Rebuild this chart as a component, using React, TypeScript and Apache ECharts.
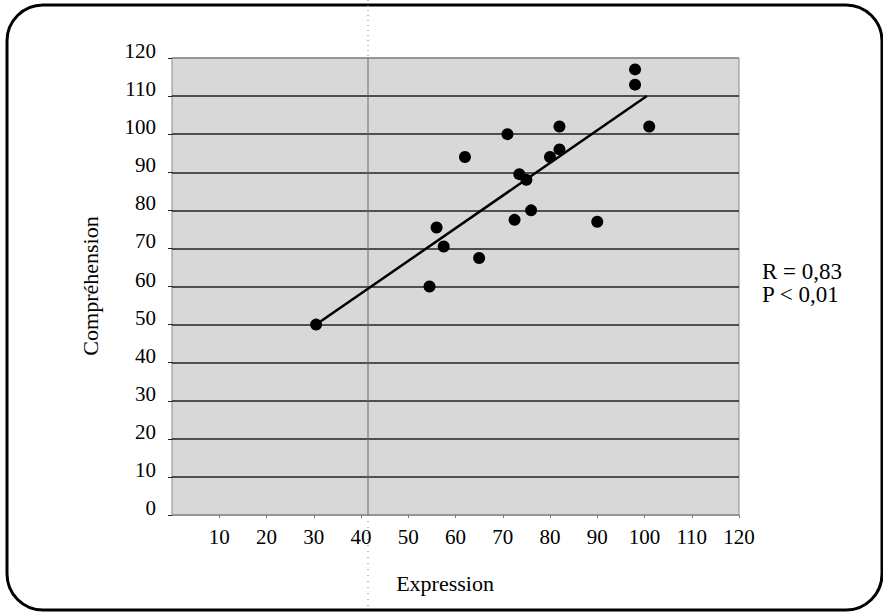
import React, { useEffect, useRef } from "react";
import * as echarts from "echarts";

const expression = [30.5, 54.5, 56, 57.5, 65, 72.5, 76, 75, 73.5, 90, 80, 82, 62, 71, 82, 98, 98, 101];
const comprehension = [50, 60, 75.5, 70.5, 67.5, 77.5, 80, 88, 89.5, 77, 94, 96, 94, 100, 102, 113, 117, 102];
const fitX = [30.5, 100.5];
const fitY = [50, 110];
const yTicks = [0, 10, 20, 30, 40, 50, 60, 70, 80, 90, 100, 110, 120];
const xTicks = [10, 20, 30, 40, 50, 60, 70, 80, 90, 100, 110, 120];
const statLines = ["R = 0,83", "P < 0,01"];
const xTitle = "Expression";
const yTitle = "Compréhension";

const FONT = "'Liberation Serif', 'Times New Roman', serif";

export default function App() {
  const ref = useRef<HTMLDivElement>(null);
  useEffect(() => {
    document.body.style.margin = "0";
    if (!ref.current) return;
    const chart = echarts.init(ref.current, null, { renderer: "svg" });
    const splitColors = yTicks.map((v, i) => (i === 0 || i === yTicks.length - 1 ? "#8a8a8a" : "#222222"));
    chart.setOption({
      animation: false,
      backgroundColor: "#ffffff",
      textStyle: { fontFamily: FONT, color: "#000" },
      grid: {
        left: 172,
        top: 58,
        right: 144,
        bottom: 98,
        show: true,
        backgroundColor: "#d8d8d8",
        borderColor: "#8a8a8a",
        borderWidth: 1,
      },
      xAxis: {
        type: "value",
        min: 0,
        max: 120,
        interval: 10,
        axisLine: { show: false },
        axisTick: { show: true, length: 3, lineStyle: { color: "#777" } },
        splitLine: { show: false },
        axisLabel: {
          showMinLabel: false,
          margin: 11,
          fontFamily: FONT,
          fontSize: 21,
          color: "#000",
          formatter: (v: number) => (xTicks.includes(v) ? String(v) : ""),
        },
      },
      yAxis: {
        type: "value",
        min: 0,
        max: 120,
        interval: 10,
        axisLine: { show: false },
        axisTick: { show: true, length: 4, lineStyle: { color: "#222" } },
        splitLine: { show: true, lineStyle: { color: splitColors, width: 1.5 } },
        axisLabel: {
          margin: 16,
          fontFamily: FONT,
          fontSize: 21,
          color: "#000",
          verticalAlign: "bottom",
          lineHeight: 14,
          formatter: (v: number) => (yTicks.includes(v) ? String(v) : ""),
        },
      },
      series: [
        {
          type: "line",
          data: fitX.map((x, i) => [x, fitY[i]]),
          symbol: "none",
          lineStyle: { color: "#000", width: 2.5 },
          z: 3,
        },
        {
          type: "scatter",
          data: expression.map((x, i) => [x, comprehension[i]]),
          symbolSize: 12,
          itemStyle: { color: "#000", opacity: 1 },
          z: 4,
        },
      ],
      graphic: [
        {
          type: "rect",
          shape: { x: 7, y: 5, width: 875, height: 605, r: 36 },
          style: { fill: "none", stroke: "#000", lineWidth: 3 },
          silent: true,
        },
        {
          type: "line",
          shape: { x1: 368, y1: 0, x2: 368, y2: 58 },
          style: { stroke: "#777", lineWidth: 1, lineDash: [1, 4] },
          silent: true,
        },
        {
          type: "line",
          shape: { x1: 368, y1: 58, x2: 368, y2: 515 },
          style: { stroke: "#6a6a6a", lineWidth: 1 },
          silent: true,
          z: 1,
        },
        {
          type: "line",
          shape: { x1: 368, y1: 515, x2: 368, y2: 613 },
          style: { stroke: "#777", lineWidth: 1, lineDash: [1, 5] },
          silent: true,
        },
        {
          type: "text",
          x: 762,
          y: 271,
          style: { text: statLines[0], font: `23px ${FONT}`, fill: "#000", verticalAlign: "middle" },
        },
        {
          type: "text",
          x: 762,
          y: 294,
          style: { text: statLines[1], font: `23px ${FONT}`, fill: "#000", verticalAlign: "middle" },
        },
        {
          type: "text",
          x: 445,
          y: 583,
          style: { text: xTitle, font: `22px ${FONT}`, fill: "#000", align: "center", verticalAlign: "middle" },
        },
        {
          type: "text",
          x: 90,
          y: 286,
          rotation: Math.PI / 2,
          style: { text: yTitle, font: `22px ${FONT}`, fill: "#000", align: "center", verticalAlign: "middle" },
        },
      ],
    });
    return () => chart.dispose();
  }, []);
  return <div ref={ref} style={{ width: 883, height: 613 }} />;
}
